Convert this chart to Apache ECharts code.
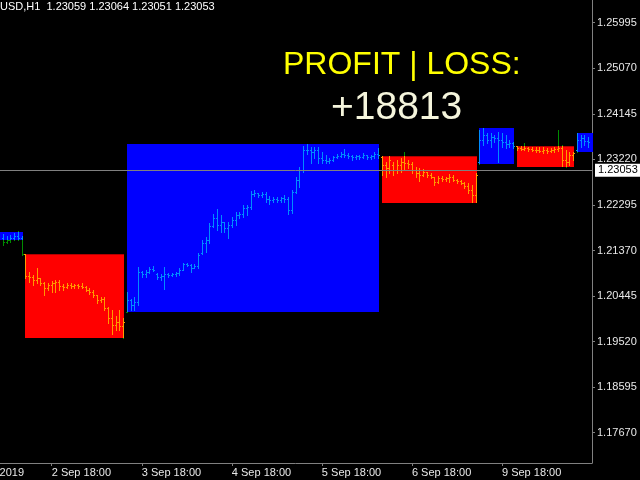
<!DOCTYPE html>
<html><head><meta charset="utf-8">
<script src="https://cdn.jsdelivr.net/npm/echarts@6/dist/echarts.min.js"></script>
<style>html,body{margin:0;padding:0;background:#000;}#c{width:640px;height:480px;}</style>
</head><body><div id="c"></div>
<script>
// ---- data ----
const firstBar = 11; // index of first visible hourly bar (30 Aug 2019 18:00 = 0)
const barOpen = [
1.2163,1.2155,1.2159,1.2163,1.2167,1.2163,1.2130,1.2086,1.2084,1.2077,
1.2082,1.2071,1.2061,1.2067,1.2071,1.2073,1.2065,1.2063,1.2067,1.2065,
1.2067,1.2065,1.2063,1.2057,1.2053,1.2047,1.2037,1.2039,1.2021,1.2000,
1.1986,1.1992,1.1984,1.2012,1.2037,1.2027,1.2033,1.2094,1.2090,1.2094,
1.2100,1.2090,1.2084,1.2086,1.2090,1.2088,1.2090,1.2092,1.2098,1.2110,
1.2108,1.2102,1.2106,1.2132,1.2153,1.2159,1.2187,1.2203,1.2189,1.2195,
1.2183,1.2189,1.2199,1.2209,1.2211,1.2224,1.2226,1.2252,1.2254,1.2250,
1.2252,1.2242,1.2240,1.2242,1.2240,1.2244,1.2242,1.2220,1.2256,1.2281,
1.2301,1.2341,1.2341,1.2337,1.2341,1.2325,1.2321,1.2319,1.2321,1.2327,
1.2329,1.2333,1.2331,1.2329,1.2327,1.2329,1.2327,1.2331,1.2327,1.2329,
1.2333,1.2327,1.2311,1.2305,1.2311,1.2301,1.2311,1.2317,1.2315,1.2313,
1.2301,1.2295,1.2291,1.2297,1.2291,1.2287,1.2276,1.2285,1.2283,1.2285,
1.2287,1.2281,1.2278,1.2274,1.2268,1.2260,1.2250,1.2317,1.2362,1.2372,
1.2362,1.2368,1.2366,1.2362,1.2358,1.2354,1.2356,1.2350,1.2345,1.2343,
1.2345,1.2343,1.2341,1.2341,1.2339,1.2341,1.2339,1.2341,1.2343,1.2345,
1.2321,1.2317,1.2331,1.2341,1.2362,1.2366,1.2360];
const barHigh = [
1.2171,1.2167,1.2169,1.2173,1.2177,1.2167,1.2130,1.2094,1.2088,1.2102,
1.2082,1.2073,1.2071,1.2075,1.2077,1.2077,1.2069,1.2071,1.2071,1.2069,
1.2069,1.2071,1.2065,1.2061,1.2057,1.2047,1.2043,1.2043,1.2023,1.2017,
1.2004,1.2017,1.2000,1.2053,1.2039,1.2043,1.2104,1.2096,1.2098,1.2104,
1.2106,1.2092,1.2090,1.2104,1.2092,1.2092,1.2094,1.2102,1.2112,1.2112,
1.2110,1.2110,1.2132,1.2159,1.2165,1.2193,1.2211,1.2222,1.2209,1.2195,
1.2195,1.2205,1.2216,1.2216,1.2230,1.2230,1.2258,1.2260,1.2254,1.2256,
1.2256,1.2248,1.2246,1.2246,1.2246,1.2250,1.2246,1.2260,1.2287,1.2307,
1.2350,1.2354,1.2348,1.2348,1.2348,1.2337,1.2331,1.2325,1.2329,1.2333,
1.2337,1.2343,1.2335,1.2331,1.2331,1.2331,1.2335,1.2331,1.2331,1.2337,
1.2345,1.2329,1.2317,1.2329,1.2317,1.2321,1.2325,1.2337,1.2321,1.2317,
1.2307,1.2305,1.2303,1.2297,1.2295,1.2287,1.2289,1.2289,1.2287,1.2293,
1.2291,1.2283,1.2281,1.2276,1.2274,1.2270,1.2295,1.2382,1.2386,1.2376,
1.2376,1.2372,1.2378,1.2376,1.2372,1.2362,1.2358,1.2350,1.2350,1.2356,
1.2348,1.2348,1.2348,1.2348,1.2348,1.2345,1.2345,1.2348,1.2382,1.2352,
1.2341,1.2337,1.2337,1.2376,1.2372,1.2372,1.2368];
const barLow = [
1.2149,1.2153,1.2155,1.2159,1.2159,1.2128,1.2082,1.2073,1.2067,1.2071,
1.2067,1.2047,1.2057,1.2053,1.2053,1.2057,1.2057,1.2061,1.2061,1.2061,
1.2061,1.2061,1.2055,1.2049,1.2043,1.2031,1.2033,1.2017,1.1990,1.1968,
1.1976,1.1976,1.1960,1.2012,1.2017,1.2017,1.2027,1.2084,1.2084,1.2092,
1.2096,1.2080,1.2077,1.2059,1.2084,1.2086,1.2086,1.2088,1.2098,1.2106,
1.2094,1.2102,1.2102,1.2130,1.2134,1.2153,1.2185,1.2179,1.2175,1.2175,
1.2163,1.2185,1.2189,1.2203,1.2205,1.2209,1.2222,1.2248,1.2246,1.2246,
1.2236,1.2232,1.2236,1.2236,1.2236,1.2236,1.2211,1.2214,1.2254,1.2266,
1.2297,1.2333,1.2315,1.2325,1.2315,1.2315,1.2315,1.2315,1.2319,1.2325,
1.2327,1.2327,1.2325,1.2321,1.2323,1.2323,1.2325,1.2323,1.2323,1.2325,
1.2325,1.2291,1.2287,1.2295,1.2291,1.2295,1.2297,1.2301,1.2305,1.2295,
1.2287,1.2278,1.2289,1.2287,1.2285,1.2270,1.2274,1.2278,1.2278,1.2276,
1.2278,1.2274,1.2272,1.2264,1.2254,1.2236,1.2236,1.2313,1.2352,1.2356,
1.2348,1.2358,1.2317,1.2348,1.2345,1.2348,1.2345,1.2341,1.2341,1.2341,
1.2339,1.2339,1.2337,1.2337,1.2335,1.2335,1.2337,1.2337,1.2339,1.2309,
1.2307,1.2311,1.2321,1.2337,1.2348,1.2352,1.2348];
const barClose = [
1.2155,1.2159,1.2163,1.2167,1.2163,1.2130,1.2086,1.2084,1.2077,1.2082,
1.2071,1.2061,1.2067,1.2071,1.2073,1.2065,1.2063,1.2067,1.2065,1.2067,
1.2065,1.2063,1.2057,1.2053,1.2047,1.2037,1.2039,1.2021,1.2000,1.1986,
1.1992,1.1984,1.1992,1.2037,1.2027,1.2033,1.2094,1.2090,1.2094,1.2100,
1.2098,1.2084,1.2086,1.2090,1.2088,1.2090,1.2092,1.2098,1.2110,1.2108,
1.2102,1.2106,1.2128,1.2153,1.2159,1.2187,1.2203,1.2189,1.2195,1.2183,
1.2189,1.2199,1.2209,1.2211,1.2224,1.2226,1.2252,1.2254,1.2250,1.2252,
1.2242,1.2240,1.2242,1.2240,1.2244,1.2242,1.2220,1.2256,1.2281,1.2301,
1.2341,1.2341,1.2337,1.2341,1.2325,1.2321,1.2319,1.2321,1.2327,1.2329,
1.2333,1.2331,1.2329,1.2327,1.2329,1.2327,1.2331,1.2327,1.2329,1.2333,
1.2331,1.2311,1.2305,1.2321,1.2301,1.2311,1.2317,1.2315,1.2313,1.2301,
1.2295,1.2291,1.2297,1.2291,1.2287,1.2276,1.2285,1.2283,1.2285,1.2287,
1.2281,1.2278,1.2274,1.2268,1.2260,1.2250,1.2291,1.2362,1.2372,1.2362,
1.2368,1.2366,1.2362,1.2358,1.2354,1.2356,1.2350,1.2345,1.2343,1.2345,
1.2343,1.2341,1.2341,1.2339,1.2341,1.2339,1.2341,1.2343,1.2345,1.2321,
1.2317,1.2331,1.2335,1.2362,1.2366,1.2360,1.2358];

// trade boxes (bar index from/to, price range)
const boxStart = [5, 17, 44, 112, 138, 148, 164];
const boxEnd   = [16, 43, 111, 137, 147, 163, 170];
const boxHigh  = [1.2175, 1.2130, 1.2354, 1.2329, 1.2386, 1.2349, 1.2375];
const boxLow   = [1.2158, 1.1959, 1.2013, 1.2234, 1.2313, 1.2307, 1.2336];
const boxSide  = ['buy', 'sell', 'buy', 'sell', 'buy', 'sell', 'buy'];

const xTickIndex  = [0, 24, 48, 72, 96, 120, 144];
const xTickLabels = ['30 Aug 2019', '2 Sep 18:00', '3 Sep 18:00', '4 Sep 18:00', '5 Sep 18:00', '6 Sep 18:00', '9 Sep 18:00'];
const yTickValues = [1.17670, 1.18595, 1.19520, 1.20445, 1.21370, 1.22295, 1.23220, 1.24145, 1.25070, 1.25995];
const lastPrice = 1.23053;
const headerText = 'USD,H1  1.23059 1.23064 1.23051 1.23053';
const plTitle = 'PROFIT | LOSS:';
const plValue = '+18813';

// ---- chart ----
const FONT = '"Liberation Sans", Arial, sans-serif';
const AXIS = '#808080';
const TXT = '#e8e8e8';
const BAR = '#008c00';
const BAR_IN = {buy: '#008cff', sell: '#ff9a00'};
const BOX = {buy: '#0000ff', sell: '#ff0000'};
const BOX_EDGE = {buy: '#0000ff', sell: '#b40000'};

const barData = barOpen.map((o, k) => [firstBar + k, o, barHigh[k], barLow[k], barClose[k]]);
const boxData = boxStart.map((s, k) => [s, boxEnd[k], boxHigh[k], boxLow[k]]);

function boxAt(i) {
  for (let k = 0; k < boxStart.length; k++) if (i >= boxStart[k] && i <= boxEnd[k]) return k;
  return -1;
}

const chart = echarts.init(document.getElementById('c'), null, {renderer: 'canvas'});
chart.setOption({
  backgroundColor: '#000',
  animation: false,
  grid: {left: -38.3, right: 48, top: 0, bottom: 17, containLabel: false, outerBoundsMode: 'none'},
  xAxis: {
    type: 'value', min: 0, max: 168,
    axisLine: {show: true, onZero: false, lineStyle: {color: AXIS, width: 1}},
    axisTick: {show: true, customValues: xTickIndex, length: 3, lineStyle: {color: AXIS}},
    axisLabel: {customValues: xTickIndex, formatter: v => xTickLabels[xTickIndex.indexOf(v)] || '',
      align: 'left', color: TXT, fontSize: 11, fontFamily: FONT, margin: 4},
    splitLine: {show: false}
  },
  yAxis: {
    type: 'value', position: 'right', min: 1.17055, max: 1.26456, scale: true,
    axisLine: {show: true, onZero: false, lineStyle: {color: AXIS, width: 1}},
    axisTick: {show: true, customValues: yTickValues, length: 3, lineStyle: {color: AXIS}},
    axisLabel: {customValues: yTickValues, formatter: v => v.toFixed(5),
      color: TXT, fontSize: 11, fontFamily: FONT, margin: 5},
    splitLine: {show: false}
  },
  graphic: [
    {type: 'text', left: 0, top: 1, style: {text: headerText, fill: '#ffffff', font: '11px ' + FONT}},
    {type: 'text', left: 283, top: 49, style: {text: plTitle, fill: '#ffff00', font: '32px ' + FONT}},
    {type: 'text', left: 331, top: 89, style: {text: plValue, fill: '#f5f5dc', font: '39px ' + FONT}}
  ],
  series: [
    {
      type: 'custom', name: 'boxes', z: 1, clip: true,
      data: boxData,
      encode: {x: [0, 1], y: [2, 3]},
      renderItem: function (params, api) {
        const p1 = api.coord([api.value(0), api.value(2)]);
        const p2 = api.coord([api.value(1), api.value(3)]);
        const x1 = Math.round(p1[0]), y1 = Math.round(p1[1]);
        const x2 = Math.round(p2[0]), y2 = Math.round(p2[1]);
        const side = boxSide[params.dataIndex];
        return {type: 'group', children: [
          {type: 'rect', shape: {x: x1, y: y1, width: x2 - x1 + 1, height: y2 - y1}, style: {fill: BOX[side]}},
          {type: 'line', shape: {x1: x1, y1: y1 + 0.5, x2: x2 + 1, y2: y1 + 0.5}, style: {stroke: BOX_EDGE[side], lineWidth: 1}}
        ]};
      }
    },
    {
      type: 'custom', name: 'bars', z: 2, clip: true,
      data: barData,
      encode: {x: 0, y: [1, 2, 3, 4]},
      renderItem: function (params, api) {
        const i = api.value(0);
        const o = api.coord([i, api.value(1)]);
        const h = api.coord([i, api.value(2)]);
        const l = api.coord([i, api.value(3)]);
        const c = api.coord([i, api.value(4)]);
        const px = Math.round(h[0]);
        const hy = Math.round(h[1]), ly = Math.round(l[1]) + 1;
        const k = boxAt(i);
        let by1 = -1, by2 = -1, inCol = BAR;
        if (k >= 0) {
          by1 = Math.round(api.coord([i, boxHigh[k]])[1]);
          by2 = Math.round(api.coord([i, boxLow[k]])[1]);
          inCol = BAR_IN[boxSide[k]];
        }
        const children = [];
        const seg = (a, b, col) => {
          if (b > a) children.push({type: 'line', shape: {x1: px + 0.5, y1: a, x2: px + 0.5, y2: b}, style: {stroke: col, lineWidth: 1}});
        };
        if (k < 0) {
          seg(hy, ly, BAR);
        } else {
          seg(hy, Math.min(ly, by1), BAR);
          seg(Math.max(hy, by1), Math.min(ly, by2), inCol);
          seg(Math.max(hy, by2), ly, BAR);
        }
        const colAt = y => (k >= 0 && y >= by1 && y < by2) ? inCol : BAR;
        const oy = Math.round(o[1]), cy = Math.round(c[1]);
        children.push({type: 'line', shape: {x1: px - 1, y1: oy + 0.5, x2: px, y2: oy + 0.5}, style: {stroke: colAt(oy), lineWidth: 1}});
        children.push({type: 'line', shape: {x1: px + 1, y1: cy + 0.5, x2: px + 2, y2: cy + 0.5}, style: {stroke: colAt(cy), lineWidth: 1}});
        return {type: 'group', children: children};
      }
    },
    {
      type: 'line', name: 'price', z: 10, data: [],
      markLine: {
        silent: true, symbol: 'none', animation: false,
        lineStyle: {color: '#808080', width: 1, type: 'solid'},
        label: {position: 'end', formatter: lastPrice.toFixed(5), color: '#000', backgroundColor: '#ffffff',
          padding: [1, 3, 1, 3], fontSize: 11, fontFamily: FONT, distance: 3},
        data: [{yAxis: lastPrice}]
      }
    }
  ]
});
</script>
</body></html>
